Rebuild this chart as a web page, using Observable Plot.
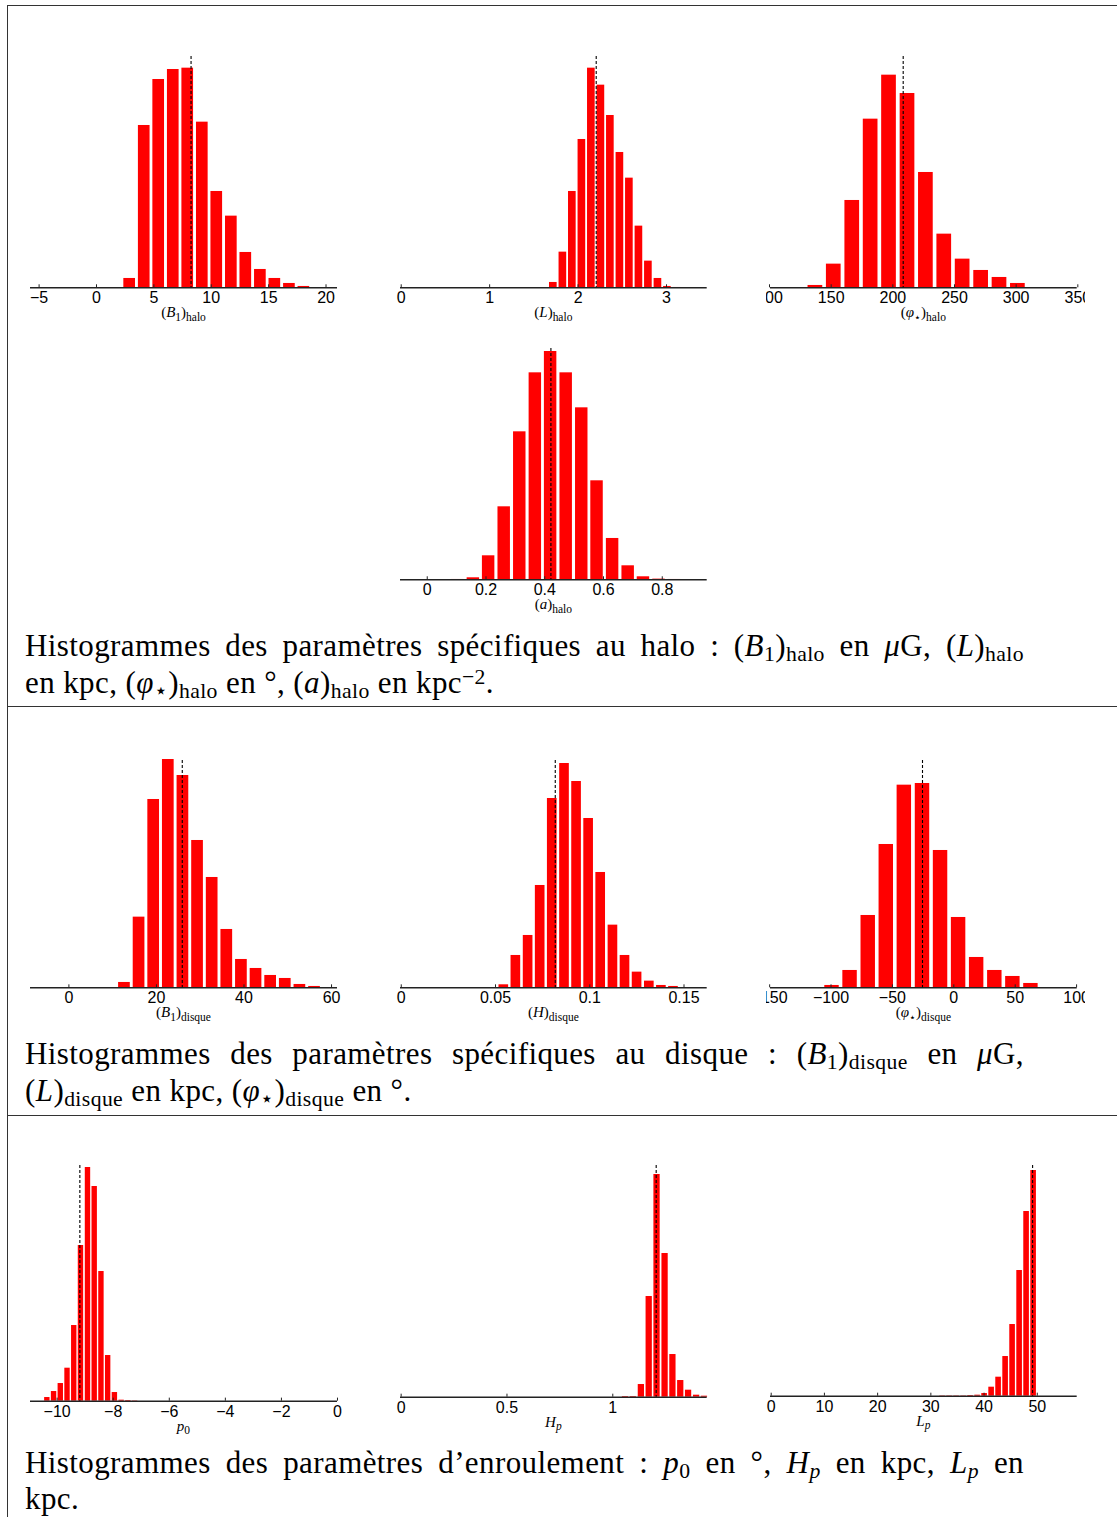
<!DOCTYPE html>
<html>
<head>
<meta charset="utf-8">
<script src="https://cdn.jsdelivr.net/npm/d3@7"></script>
<script src="https://cdn.jsdelivr.net/npm/@observablehq/plot@0.6"></script>
<style>
  body { margin: 0; background: #fff; }
  #page { position: relative; width: 1117px; height: 1517px; overflow: hidden; background: #fff; }
  .hl { position: absolute; height: 1px; background: #333; }
  .vl { position: absolute; width: 1px; background: #333; }
  .cap { position: absolute; left: 25px; width: 999px; font-family: "Liberation Serif", "Times New Roman", serif;
         font-size: 29px; line-height: 1; color: #000; white-space: nowrap; letter-spacing: 0.4px; }
  .cap.just { white-space: normal; text-align: justify; text-align-last: justify; }
  .cap sub { font-size: 70%; vertical-align: -0.23em; line-height: 0; }
  .cap sup { font-size: 70%; vertical-align: 0.4em; line-height: 0; }
</style>
</head>
<body>
<div id="page"></div>
<script>
// ---------------- DATA ----------------
// (B1)halo
const B1halo_ticks  = [-5, 0, 5, 10, 15, 20];
const B1halo_xlim   = [-5.75, 21];
const B1halo_bins   = [2.89, 4.16, 5.42, 6.69, 7.95, 9.22, 10.48, 11.75, 13.01, 14.28, 15.54, 16.81, 18.07];
const B1halo_counts = [28, 487, 625, 655, 659, 497, 289, 215, 106, 55, 28, 13, 4];
const B1halo_median = 8.24;
const B1halo_ymax   = 694;
const B1halo_label  = [["(", ""], ["B", "i"], ["1", "s"], [")", ""], ["halo", "s"]];

// (L)halo
const Lhalo_ticks  = [0, 1, 2, 3];
const Lhalo_xlim   = [-0.008, 3.46];
const Lhalo_bins   = [1.720, 1.828, 1.935, 2.043, 2.150, 2.258, 2.365, 2.473, 2.580, 2.688, 2.795, 2.903, 3.010, 3.118];
const Lhalo_counts = [16, 107, 289, 445, 659, 608, 517, 406, 329, 185, 80, 28, 4, 1];
const Lhalo_median = 2.205;
const Lhalo_ymax   = 694;
const Lhalo_label  = [["(", ""], ["L", "i"], [")", ""], ["halo", "s"]];

// (phi*)halo
const phihalo_ticks  = [100, 150, 200, 250, 300, 350];
const phihalo_xlim   = [100.8, 349.5];
const phihalo_bins   = [137.2, 152.1, 167.1, 182.0, 196.9, 211.9, 226.8, 241.7, 256.6, 271.6, 286.5, 301.4];
const phihalo_counts = [7, 71, 262, 506, 638, 583, 346, 161, 86, 52, 31, 13];
const phihalo_median = 208.4;
const phihalo_ymax   = 694;
const phihalo_label  = [["(", ""], ["φ", "i"], ["⋆", "s"], [")", ""], ["halo", "s"]];

// (a)halo
const ahalo_ticks  = [0, 0.2, 0.4, 0.6, 0.8];
const ahalo_xlim   = [-0.091, 0.953];
const ahalo_bins   = [0.104, 0.157, 0.209, 0.262, 0.315, 0.368, 0.420, 0.473, 0.526, 0.578, 0.631, 0.684, 0.736, 0.789, 0.842];
const ahalo_counts = [1, 6, 72, 219, 444, 621, 685, 621, 516, 297, 124, 42, 9, 2, 1];
const ahalo_median = 0.421;
const ahalo_ymax   = 694;
const ahalo_label  = [["(", ""], ["a", "i"], [")", ""], ["halo", "s"]];

// (B1)disque
const B1disque_ticks  = [0, 20, 40, 60];
const B1disque_xlim   = [-8.77, 61.36];
const B1disque_bins   = [12.69, 16.03, 19.37, 22.71, 26.05, 29.39, 32.73, 36.07, 39.41, 42.75, 46.09, 49.43, 52.77, 56.11];
const B1disque_counts = [16, 212, 565, 685, 637, 442, 331, 175, 85, 58, 37, 28, 10, 4];
const B1disque_median = 25.9;
const B1disque_ymax   = 682;
const B1disque_label  = [["(", ""], ["B", "i"], ["1", "s"], [")", ""], ["disque", "s"]];

// (H)disque
const Hdisque_ticks  = [0, 0.05, 0.1, 0.15];
const Hdisque_xlim   = [-0.0004, 0.1623];
const Hdisque_bins   = [0.0544, 0.0608, 0.0673, 0.0737, 0.0801, 0.0866, 0.0930, 0.0994, 0.1058, 0.1123, 0.1187, 0.1251, 0.1316, 0.1380, 0.1444];
const Hdisque_counts = [9, 97, 157, 307, 568, 673, 619, 508, 346, 188, 97, 47, 20, 7, 4];
const Hdisque_median = 0.0817;
const Hdisque_ymax   = 682;
const Hdisque_label  = [["(", ""], ["H", "i"], [")", ""], ["disque", "s"]];

// (phi*)disque
const phidisque_ticks  = [-150, -100, -50, 0, 50, 100];
const phidisque_xlim   = [-149.3, 100.5];
const phidisque_bins   = [-99.2, -84.5, -69.7, -55.0, -40.3, -25.5, -10.8, 3.9, 18.6, 33.4, 48.1, 62.8];
const phidisque_counts = [7, 52, 217, 430, 608, 613, 412, 211, 91, 52, 34, 13];
const phidisque_median = -25.5;
const phidisque_ymax   = 682;
const phidisque_label  = [["(", ""], ["φ", "i"], ["⋆", "s"], [")", ""], ["disque", "s"]];

// p0
const p0_ticks  = [-10, -8, -6, -4, -2, 0];
const p0_xlim   = [-10.95, 0];
const p0_bins   = [-10.35, -10.11, -9.87, -9.63, -9.39, -9.15, -8.90, -8.66, -8.42, -8.18, -7.94, -7.70, -7.46, -7.22];
const p0_counts = [11, 29, 53, 99, 227, 467, 701, 644, 389, 137, 26, 3, 2, 1];
const p0_median = -9.19;
const p0_ymax   = 707;
const p0_label  = [["p", "i"], ["0", "s"]];

// Hp
const Hp_ticks  = [0, 0.5, 1];
const Hp_xlim   = [-0.003, 1.446];
const Hp_bins   = [1.060, 1.097, 1.135, 1.172, 1.209, 1.247, 1.284, 1.321, 1.358, 1.396, 1.433];
const Hp_counts = [2, 2, 38, 302, 668, 431, 128, 50, 21, 6, 3];
const Hp_median = 1.205;
const Hp_ymax   = 695;
const Hp_label  = [["H", "i"], ["p", "is"]];

// Lp
const Lp_ticks  = [0, 10, 20, 30, 40, 50];
const Lp_xlim   = [-0.13, 57.5];
const Lp_bins   = [32.21, 33.53, 34.84, 36.16, 37.47, 38.79, 40.10, 41.42, 42.73, 44.05, 45.36, 46.68, 47.99, 49.31];
const Lp_counts = [1, 1, 1, 1, 2, 3, 8, 27, 57, 119, 215, 377, 554, 677];
const Lp_median = 49.12;
const Lp_ymax   = 692;
const Lp_label  = [["L", "i"], ["p", "is"]];

// ---------------- LAYOUT ----------------
const col1 = {left: 10,  width: 360, axisL: 30,  axisR: 337};
const col2 = {left: 380, width: 360, axisL: 400, axisR: 706.7};
const col3 = {left: 766, width: 319, axisL: 770, axisR: 1076.7};

const charts = [
  [{ticks: B1halo_ticks, xlim: B1halo_xlim, bins: B1halo_bins, counts: B1halo_counts, median: B1halo_median, ymax: B1halo_ymax, label: B1halo_label}, col1, 56, 287.3],
  [{ticks: Lhalo_ticks, xlim: Lhalo_xlim, bins: Lhalo_bins, counts: Lhalo_counts, median: Lhalo_median, ymax: Lhalo_ymax, label: Lhalo_label}, col2, 56, 287.3],
  [{ticks: phihalo_ticks, xlim: phihalo_xlim, bins: phihalo_bins, counts: phihalo_counts, median: phihalo_median, ymax: phihalo_ymax, label: phihalo_label}, col3, 56, 287.3],
  [{ticks: ahalo_ticks, xlim: ahalo_xlim, bins: ahalo_bins, counts: ahalo_counts, median: ahalo_median, ymax: ahalo_ymax, label: ahalo_label}, col2, 347.7, 579],
  [{ticks: B1disque_ticks, xlim: B1disque_xlim, bins: B1disque_bins, counts: B1disque_counts, median: B1disque_median, ymax: B1disque_ymax, label: B1disque_label}, col1, 760, 987.3],
  [{ticks: Hdisque_ticks, xlim: Hdisque_xlim, bins: Hdisque_bins, counts: Hdisque_counts, median: Hdisque_median, ymax: Hdisque_ymax, label: Hdisque_label}, col2, 760, 987.3],
  [{ticks: phidisque_ticks, xlim: phidisque_xlim, bins: phidisque_bins, counts: phidisque_counts, median: phidisque_median, ymax: phidisque_ymax, label: phidisque_label}, col3, 760, 987.3],
  [{ticks: p0_ticks, xlim: p0_xlim, bins: p0_bins, counts: p0_counts, median: p0_median, ymax: p0_ymax, label: p0_label}, col1, 1165, 1400.7],
  [{ticks: Hp_ticks, xlim: Hp_xlim, bins: Hp_bins, counts: Hp_counts, median: Hp_median, ymax: Hp_ymax, label: Hp_label}, col2, 1165, 1396.7],
  [{ticks: Lp_ticks, xlim: Lp_xlim, bins: Lp_bins, counts: Lp_counts, median: Lp_median, ymax: Lp_ymax, label: Lp_label}, col3, 1165, 1395.7]
];

const page = document.getElementById("page");

// frame lines
function line(cls, css) { const d = document.createElement("div"); d.className = cls; Object.assign(d.style, css); page.appendChild(d); }
line("vl", {left: "7px", top: "5px", height: "1512px"});
line("hl", {left: "7px", top: "5px", width: "1110px"});
line("hl", {left: "7px", top: "706px", width: "1110px"});
line("hl", {left: "7px", top: "1115px", width: "1110px"});

const fmt = v => (v < 0 ? "\u2212" : "") + Math.abs(v);

function addLabel(svg, x, y, parts) {
  const t = d3.select(svg).append("text")
    .attr("x", x).attr("y", y).attr("text-anchor", "middle")
    .attr("font-family", "'Liberation Serif', 'Times New Roman', serif")
    .attr("font-size", 15).attr("fill", "#000");
  let shift = 0;
  for (const [s, k] of parts) {
    const sub = k.includes("s"), it = k.includes("i");
    const target = sub ? 3.5 : 0;
    t.append("tspan").text(s)
      .attr("dy", target - shift)
      .attr("font-size", sub ? 11.5 : 15)
      .attr("font-style", it ? "italic" : "normal");
    shift = target;
  }
}

for (const [d, col, top, base] of charts) {
  const mT = 4, mB = 42;
  const mL = col.axisL - col.left, mR = col.left + col.width - col.axisR;
  const H = (base - top) + mT + mB;
  const w = d.bins[1] - d.bins[0];
  const rows = d.bins.map((c, i) => ({c, n: d.counts[i]}));
  const svg = Plot.plot({
    width: col.width, height: H,
    marginLeft: mL, marginRight: mR, marginTop: mT, marginBottom: mB,
    x: {domain: d.xlim, label: null},
    y: {domain: [0, d.ymax], axis: null},
    style: {fontFamily: "'Liberation Sans', Arial, sans-serif", fontSize: "16px", background: "transparent", overflow: "hidden", color: "#000"},
    marks: [
      Plot.rect(rows, {x1: r => r.c - 0.4 * w, x2: r => r.c + 0.4 * w, y1: 0, y2: "n", fill: "#ff0000"}),
      Plot.ruleY([0], {stroke: "#222", strokeWidth: 1.4}),
      Plot.ruleX(d.ticks, {x: t => t, y1: 0, y2: d.ymax * 0.013, stroke: "#222", strokeWidth: 1}),
      Plot.ruleX([d.median], {x: m => m, stroke: "#000", strokeWidth: 1.1, strokeDasharray: "3,2"}),
      Plot.axisX(d.ticks, {tickSize: 0, tickPadding: 4, tickFormat: fmt, fontSize: 16, fill: "#000", label: null})
    ]
  });
  d3.select(svg).selectAll("text").style("font-size", "16px");
  svg.style.position = "absolute";
  svg.style.left = col.left + "px";
  svg.style.top = (top - mT) + "px";
  svg.style.maxWidth = "none";
  addLabel(svg, (mL + col.width - mR) / 2, (base - top) + mT + 30, d.label);
  page.appendChild(svg);
}

// ---------------- CAPTIONS ----------------
const captions = [
  [656, "Histogrammes des paramètres spécifiques au halo : (<i>B</i><sub>1</sub>)<sub>halo</sub> en <i>μ</i>G, (<i>L</i>)<sub>halo</sub>", true],
  [693, "en kpc, (<i>φ</i><sub>⋆</sub>)<sub>halo</sub> en °, (<i>a</i>)<sub>halo</sub> en kpc<sup>−2</sup>.", false],
  [1064, "Histogrammes des paramètres spécifiques au disque : (<i>B</i><sub>1</sub>)<sub>disque</sub> en <i>μ</i>G,", true],
  [1101, "(<i>L</i>)<sub>disque</sub> en kpc, (<i>φ</i><sub>⋆</sub>)<sub>disque</sub> en °.", false],
  [1473, "Histogrammes des paramètres d’enroulement : <i>p</i><sub>0</sub> en °, <i>H<sub>p</sub></i> en kpc, <i>L<sub>p</sub></i> en", true],
  [1509, "kpc.", false]
];
const capEls = captions.map(([b, html, just]) => {
  const el = document.createElement("div");
  el.className = "cap" + (just ? " just" : "");
  el.innerHTML = html;
  el.dataset.base = b;
  page.appendChild(el);
  return el;
});
// fit font size so that justified lines stay on one line
let maxW = 0;
for (const el of capEls) {
  if (!el.classList.contains("just")) continue;
  const c = document.createElement("span");
  c.style.cssText = "position:absolute;visibility:hidden;white-space:nowrap;font-family:'Liberation Serif','Times New Roman',serif;font-size:30px;letter-spacing:0.4px;";
  c.innerHTML = el.innerHTML;
  document.body.appendChild(c);
  maxW = Math.max(maxW, c.getBoundingClientRect().width);
  c.remove();
}
const fs = Math.min(31, 30 * 985 / maxW);
for (const el of capEls) {
  el.style.fontSize = fs + "px";
  el.style.top = (+el.dataset.base - 0.8375 * fs) + "px";
}
</script>
</body>
</html>
